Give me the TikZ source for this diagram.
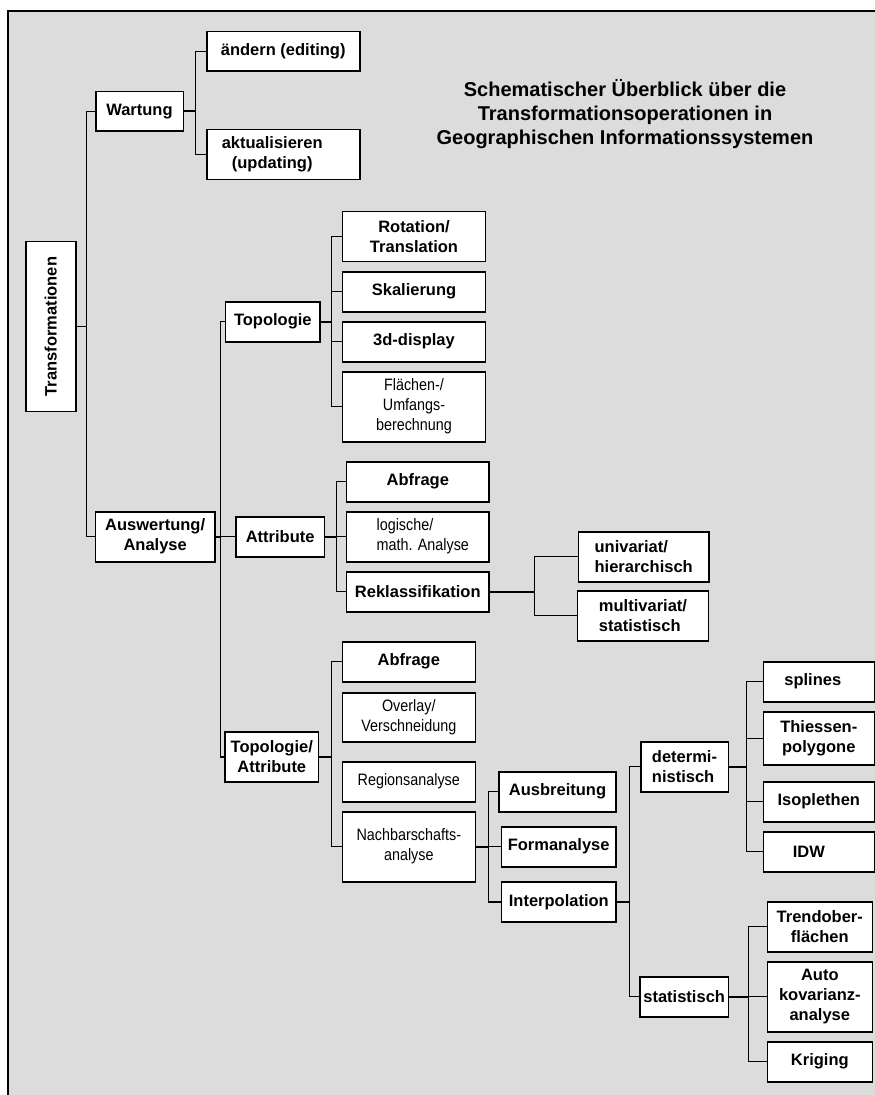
\documentclass[tikz,border=0pt]{standalone}
\usepackage{fontspec}
\setmainfont{Liberation Sans}
\newfontfamily\narrowsans[FakeStretch=0.87]{Liberation Sans}
\definecolor{panelgray}{HTML}{DCDCDC}

\begin{document}
\begin{tikzpicture}[x=1pt, y=-1pt,
  box/.style={draw=black, fill=white, line width=1.6pt, inner sep=0pt, align=center,
    font=\fontsize{16.5}{20}\selectfont\bfseries},
  thinbox/.style={box, font=\narrowsans\fontsize{16.5}{20}\selectfont},
  link/.style={line width=1.1pt},
  stub/.style={line width=1.9pt}]

\useasboundingbox (0,0) rectangle (875,1095);
\fill[panelgray] (8,11) rectangle (875,1095);
\draw[line width=1.4pt] (8,1095) -- (8,11) -- (875,11);

\node[font=\fontsize{20}{24}\selectfont\bfseries, align=center] (title) at (625,114)
  {Schematischer Überblick über die\\Transformationsoperationen in\\Geographischen Informationssystemen};

% first level
\node[box, minimum width=50pt, minimum height=170pt] (trans) at (50.7,326.5) {\rotatebox{90}{Transformationen}};
\node[box, minimum width=87.6pt, minimum height=39.3pt] (wart) at (139.5,111.3) {Wartung};
\node[box, minimum width=119.7pt, minimum height=50pt] (ausw) at (155.2,536.7) {Auswertung/\\Analyse};

% Wartung
\node[box, minimum width=153pt, minimum height=39.3pt] (aend) at (283.2,51.3) {ändern (editing)};
\node[box, minimum width=153pt, minimum height=50pt] (aktu) at (283.2,154.3) {aktualisieren\hspace*{22pt}\\(updating)\hspace*{22pt}};

% Auswertung
\node[box, minimum width=94.3pt, minimum height=40pt] (topo) at (272.8,321.7) {Topologie};
\node[box, minimum width=88.3pt, minimum height=40pt] (attr) at (280.2,536.7) {Attribute};
\node[box, minimum width=93.5pt, minimum height=50pt] (toat) at (271.8,757) {Topologie/\\Attribute};

% Topologie
\node[box, minimum width=143pt, minimum height=50pt] (rot) at (414,236.3) {Rotation/\\Translation};
\node[box, minimum width=143pt, minimum height=40pt] (skal) at (414,291.7) {Skalierung};
\node[box, minimum width=143pt, minimum height=40pt] (disp) at (414,341.7) {3d-display};
\node[thinbox, minimum width=143pt, minimum height=70pt] (flae) at (414,406.7) {Flächen-/\\Umfangs-\\berechnung};

% Attribute
\node[box, minimum width=142.3pt, minimum height=40pt] (abfa) at (417.8,481.7) {Abfrage};
\node[thinbox, align=left, minimum width=142.3pt, minimum height=50pt] (logi) at (417.8,536.7) {\hspace*{10pt}logische/\\\hspace*{10pt}math. Analyse};
\node[box, minimum width=142.3pt, minimum height=40pt] (rekl) at (417.8,591.7) {Reklassifikation};
\node[box, align=left, minimum width=130.7pt, minimum height=50pt] (univ) at (643.7,556.7) {univariat/\\hierarchisch};
\node[box, align=left, minimum width=130.7pt, minimum height=50pt] (mult) at (643,615.7) {multivariat/\\statistisch};

% Topologie/Attribute
\node[box, minimum width=133pt, minimum height=40pt] (abft) at (408.8,661.7) {Abfrage};
\node[thinbox, minimum width=133pt, minimum height=49pt] (over) at (408.8,717.5) {Overlay/\\Verschneidung};
\node[thinbox, minimum width=133pt, minimum height=40pt] (regi) at (408.8,781.7) {Regionsanalyse};
\node[thinbox, minimum width=133pt, minimum height=70pt] (nach) at (408.8,846.7) {Nachbarschafts-\\analyse};
\node[box, minimum width=117pt, minimum height=40pt] (ausb) at (557.5,791.7) {Ausbreitung};
\node[box, minimum width=114.7pt, minimum height=40pt] (form) at (558.7,846.7) {Formanalyse};
\node[box, minimum width=114.3pt, minimum height=40pt] (inte) at (558.8,902) {Interpolation};

% Interpolation
\node[box, align=left, minimum width=87.6pt, minimum height=50pt] (dete) at (684.5,766.7) {determi-\\nistisch};
\node[box, minimum width=88.3pt, minimum height=40pt] (stat) at (684.2,996.7) {statistisch};
\node[box, minimum width=111pt, minimum height=40pt] (spli) at (818.8,681.7) {splines\hspace*{12pt}};
\node[box, minimum width=111pt, minimum height=53pt] (thie) at (818.8,738.5) {Thiessen-\\polygone};
\node[box, minimum width=111pt, minimum height=40pt] (isop) at (818.8,801.7) {Isoplethen};
\node[box, minimum width=111pt, minimum height=40pt] (idw) at (818.8,851.7) {IDW\hspace*{20pt}};
\node[box, minimum width=105pt, minimum height=50pt] (tren) at (819.8,926.7) {Trendober-\\flächen};
\node[box, minimum width=105pt, minimum height=70pt] (auto) at (819.8,996.7) {Auto\\kovarianz-\\analyse};
\node[box, minimum width=105pt, minimum height=40pt] (krig) at (819.8,1061.7) {Kriging};

% connectors
\draw[stub] (trans.east) -- ++(10,0) coordinate (jtrans);
\draw[link] (wart.west) -| (jtrans);
\draw[link] (ausw.west) -| (jtrans);

\draw[stub] (wart.east) -- ++(11.7,0) coordinate (jwart);
\draw[link] (aend.west) -| (jwart);
\draw[link] (aktu.west) -| (jwart);

\draw[stub] (ausw.east) -- ++(5,0) coordinate (jausw);
\draw[link] (jausw) -- (attr.west);
\draw[link] (topo.west) -| (jausw);
\draw[link] (toat.west) -| (jausw);

\draw[stub] (topo.east) -- ++(11,0) coordinate (jtopo);
\draw[link] (rot.west) -| (jtopo);
\draw[link] (skal.west) -| (jtopo);
\draw[link] (disp.west) -| (jtopo);
\draw[link] (flae.west) -| (jtopo);

\draw[stub] (attr.east) -- ++(11.7,0) coordinate (jattr);
\draw[link] (abfa.west) -| (jattr);
\draw[link] (logi.west) -| (jattr);
\draw[link] (rekl.west) -| (jattr);

\draw[stub] (rekl.east) -- ++(44.3,0) coordinate (jrekl);
\draw[link] (univ.west) -| (jrekl);
\draw[link] (mult.west) -| (jrekl);

\draw[stub] (toat.east) -- ++(12.5,0) coordinate (jtoat);
\draw[link] (abft.west) -| (jtoat);
\draw[link] (nach.west) -| (jtoat);

\draw[stub] (nach.east) -- ++(12,0) coordinate (jnach);
\draw[link] (ausb.west) -| (jnach);
\draw[link] (form.west) -| (jnach);
\draw[link] (inte.west) -| (jnach);

\draw[stub] (inte.east) -- ++(12.3,0) coordinate (jinte);
\draw[link] (dete.west) -| (jinte);
\draw[link] (stat.west) -| (jinte);

\draw[stub] (dete.east) -- ++(17.4,0) coordinate (jdete);
\draw[link] (spli.west) -| (jdete);
\draw[link] (thie.west) -| (jdete);
\draw[link] (isop.west) -| (jdete);
\draw[link] (idw.west) -| (jdete);

\draw[stub] (stat.east) -- ++(19.4,0) coordinate (jstat);
\draw[link] (tren.west) -| (jstat);
\draw[link] (auto.west) -| (jstat);
\draw[link] (krig.west) -| (jstat);

\end{tikzpicture}
\end{document}
